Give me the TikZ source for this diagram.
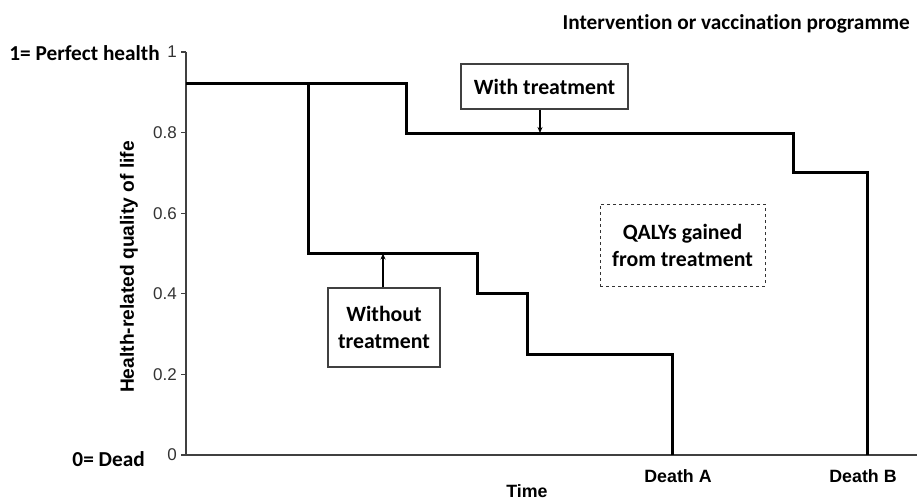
\documentclass[tikz,border=0pt]{standalone}
\usepackage{fontspec}
\setmainfont{Liberation Sans}
\newfontfamily\carlitofont[Ligatures=NoCommon]{Carlito}
\usetikzlibrary{arrows.meta}
\tikzset{
  lbl/.style={font=\carlitofont\bfseries\fontsize{21.3}{25}\selectfont, inner sep=0pt},
  tick/.style={font=\fontsize{17}{20}\selectfont, text=black!80, inner sep=0pt, anchor=east},
  axl/.style={font=\bfseries\fontsize{17.8}{21}\selectfont, inner sep=0pt},
  curve/.style={line width=3pt, black},
  axis/.style={line width=1.3pt, black!75},
  boxed/.style={draw=black!75, line width=1.1pt, fill=white, align=center, font=\carlitofont\bfseries\fontsize{21.8}{27}\selectfont},
  ptr/.style={line width=1.6pt, -{Stealth[length=6pt,width=5pt]}},
}
\begin{document}
\begin{tikzpicture}[x=1pt,y=-1pt]
\useasboundingbox (0,0) rectangle (920,500);
% axes
\coordinate (o) at (186,455);
\coordinate (ytop) at (186,52);
\coordinate (xend) at (917,455);
\draw[axis] (ytop) -- (o) -- (xend);
\foreach \v/\t/\n in {0/0/t0,0.2/0.2/t2,0.4/0.4/t4,0.6/0.6/t6,0.8/0.8/t8,1/1/t10}{
  \draw[axis] (181,{455-403*\v}) -- (186,{455-403*\v});
  \node[tick] (\n) at (177,{455-403*\v}) {\t};
}
% curves
\draw[curve] (186,84) -- (406,84) -- (406,133) -- (793,133) -- (793,172) -- (867,172) -- (867,455);
\draw[curve] (308,84) -- (308,253.5) -- (477,253.5) -- (477,293) -- (527,293) -- (527,354) -- (672,354) -- (672,455);
\coordinate (wpt) at (540,133);
\coordinate (npt) at (383,253.5);
% boxes
\node[boxed, minimum width=167pt, minimum height=45pt] (with) at (544.5,86.5) {With treatment};
\node[boxed, minimum width=112pt, minimum height=79pt] (without) at (384,327.5) {Without\\treatment};
\node[boxed, dashed, draw=black!80, line width=1pt, minimum width=165pt, minimum height=82pt] (qaly) at (682.5,245) {QALYs gained\\from treatment};
\draw[ptr] (with.south -| wpt) -- (wpt);
\draw[ptr] (without.north -| npt) -- (npt);
% labels
\node[lbl, anchor=east] (title) at (910,24) {Intervention or vaccination programme};
\node[lbl, anchor=east] (perfect) at (160,53) {1= Perfect health};
\node[lbl, anchor=east] (dead) at (145,459) {0= Dead};
\node[axl] (deathA) at (678,476) {Death A};
\node[axl] (deathB) at (863,476) {Death B};
\node[axl] (time) at (527,491) {Time};
\node[axl, font=\bfseries\fontsize{19.2}{22}\selectfont, rotate=90] (ylab) at (129,267) {Health-related quality of life};
\end{tikzpicture}
\end{document}
